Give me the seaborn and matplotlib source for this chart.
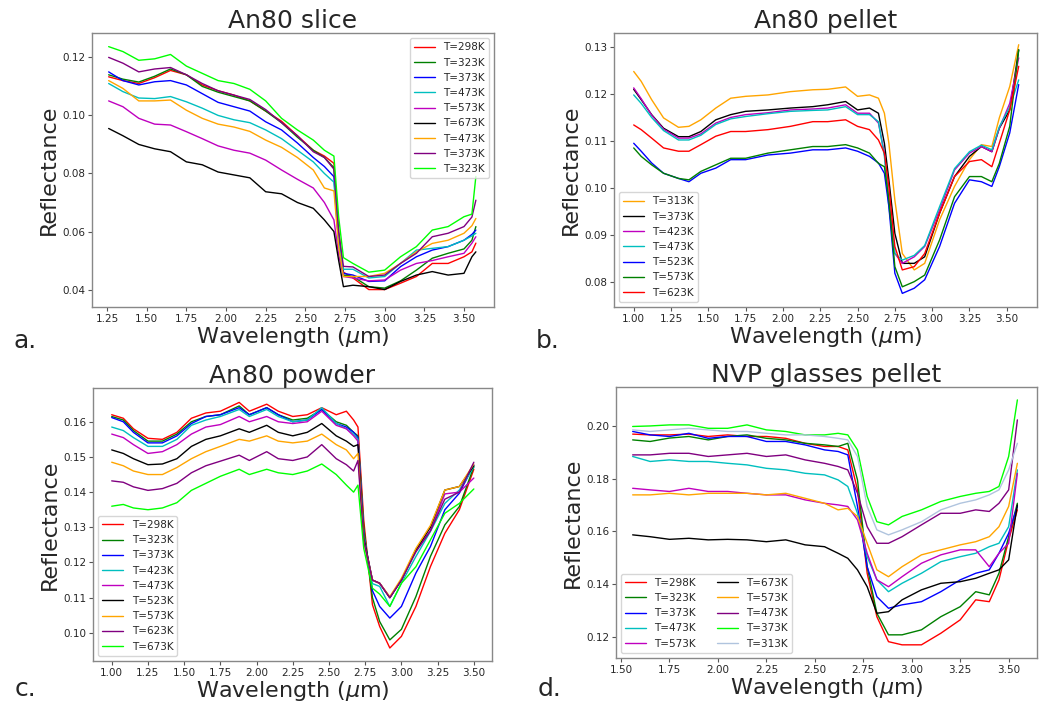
import numpy as np
import pandas as pd
import seaborn as sns
from matplotlib import pyplot as plt

# ---------------- data ----------------
# a. An80 slice
wl_a = [1.26, 1.35, 1.45, 1.55, 1.65, 1.75, 1.85, 1.95, 2.05, 2.15, 2.25, 2.35, 2.45, 2.55,
        2.62, 2.68, 2.71, 2.74, 2.80, 2.90, 3.00, 3.10, 3.20, 3.30, 3.40, 3.50, 3.55, 3.575]
labels_a = ["T=298K", "T=323K", "T=373K", "T=473K", "T=573K", "T=673K", "T=473K", "T=373K", "T=323K"]
colors_a = ["red", "green", "blue", "c", "m", "k", "orange", "purple", "lime"]
a_298 = [0.1133, 0.1120, 0.1110, 0.1130, 0.1155, 0.1140, 0.1105, 0.1085, 0.1070, 0.1050, 0.1015, 0.0980, 0.0930, 0.0880,
         0.0860, 0.0835, 0.0600, 0.0460, 0.0440, 0.0400, 0.0400, 0.0422, 0.0445, 0.0490, 0.0490, 0.0513, 0.0530, 0.0560]
a_323 = [0.1140, 0.1125, 0.1115, 0.1135, 0.1160, 0.1140, 0.1100, 0.1080, 0.1065, 0.1050, 0.1015, 0.0975, 0.0925, 0.0880,
         0.0855, 0.0820, 0.0580, 0.0450, 0.0445, 0.0410, 0.0405, 0.0430, 0.0467, 0.0508, 0.0525, 0.0540, 0.0570, 0.0617]
a_373 = [0.1150, 0.1120, 0.1105, 0.1116, 0.1120, 0.1105, 0.1075, 0.1045, 0.1030, 0.1015, 0.0978, 0.0950, 0.0905, 0.0855,
         0.0824, 0.0789, 0.0560, 0.0456, 0.0450, 0.0428, 0.0430, 0.0479, 0.0513, 0.0536, 0.0548, 0.0570, 0.0590, 0.0605]
a_473 = [0.1110, 0.1082, 0.1060, 0.1058, 0.1065, 0.1047, 0.1025, 0.1000, 0.0985, 0.0975, 0.0950, 0.0920, 0.0880, 0.0840,
         0.0800, 0.0770, 0.0560, 0.0470, 0.0470, 0.0440, 0.0445, 0.0490, 0.0536, 0.0542, 0.0548, 0.0570, 0.0585, 0.0594]
a_573 = [0.1050, 0.1030, 0.0990, 0.0970, 0.0967, 0.0944, 0.0920, 0.0895, 0.0880, 0.0870, 0.0846, 0.0812, 0.0780, 0.0750,
         0.0700, 0.0640, 0.0520, 0.0445, 0.0440, 0.0430, 0.0433, 0.0467, 0.0490, 0.0500, 0.0513, 0.0525, 0.0560, 0.0582]
a_673 = [0.0955, 0.0930, 0.0900, 0.0885, 0.0875, 0.0840, 0.0830, 0.0805, 0.0795, 0.0785, 0.0737, 0.0730, 0.0700, 0.0680,
         0.0640, 0.0600, 0.0500, 0.0410, 0.0415, 0.0410, 0.0400, 0.0428, 0.0450, 0.0462, 0.0450, 0.0456, 0.0513, 0.0530]
a_473b = [0.1120, 0.1093, 0.1050, 0.1050, 0.1053, 0.1018, 0.0990, 0.0970, 0.0960, 0.0945, 0.0915, 0.0890, 0.0855, 0.0812,
          0.0750, 0.0740, 0.0550, 0.0445, 0.0445, 0.0445, 0.0456, 0.0490, 0.0530, 0.0559, 0.0570, 0.0594, 0.0620, 0.0645]
a_373b = [0.1200, 0.1180, 0.1150, 0.1160, 0.1165, 0.1140, 0.1110, 0.1085, 0.1070, 0.1055, 0.1020, 0.0975, 0.0930, 0.0875,
          0.0855, 0.0815, 0.0600, 0.0480, 0.0478, 0.0445, 0.0450, 0.0490, 0.0525, 0.0582, 0.0594, 0.0617, 0.0650, 0.0708]
a_323b = [0.1237, 0.1220, 0.1190, 0.1195, 0.1210, 0.1170, 0.1145, 0.1120, 0.1110, 0.1090, 0.1050, 0.0990, 0.0950, 0.0915,
          0.0880, 0.0860, 0.0650, 0.0510, 0.0490, 0.0460, 0.0467, 0.0513, 0.0548, 0.0605, 0.0617, 0.0651, 0.0660, 0.0790]

# b. An80 pellet
wl_b = [1.00, 1.05, 1.12, 1.20, 1.30, 1.37, 1.45, 1.55, 1.65, 1.75, 1.90, 2.05, 2.20, 2.30, 2.42, 2.50,
        2.58, 2.64, 2.68, 2.71, 2.75, 2.80, 2.88, 2.95, 3.05, 3.15, 3.25, 3.33, 3.40, 3.45, 3.52, 3.58]
labels_b = ["T=313K", "T=373K", "T=423K", "T=473K", "T=523K", "T=573K", "T=623K"]
colors_b = ["orange", "k", "m", "c", "blue", "green", "red"]
b_313 = [0.1248, 0.1227, 0.1188, 0.1149, 0.1129, 0.1131, 0.1145, 0.1170, 0.1191, 0.1195, 0.1198, 0.1205, 0.1209, 0.1210, 0.1215, 0.1195,
         0.1198, 0.1191, 0.1159, 0.1095, 0.0974, 0.0860, 0.0825, 0.0839, 0.0932, 0.1003, 0.1060, 0.1092, 0.1088, 0.1149, 0.1216, 0.1305]
b_373 = [0.1210, 0.1188, 0.1156, 0.1127, 0.1109, 0.1109, 0.1120, 0.1145, 0.1156, 0.1163, 0.1166, 0.1170, 0.1173, 0.1177, 0.1184, 0.1166,
         0.1170, 0.1159, 0.1095, 0.1017, 0.0903, 0.0839, 0.0839, 0.0853, 0.0946, 0.1024, 0.1067, 0.1088, 0.1077, 0.1127, 0.1166, 0.1294]
b_423 = [0.1213, 0.1190, 0.1155, 0.1125, 0.1106, 0.1106, 0.1115, 0.1138, 0.1150, 0.1156, 0.1160, 0.1166, 0.1168, 0.1170, 0.1177, 0.1159,
         0.1159, 0.1138, 0.1074, 0.0974, 0.0860, 0.0839, 0.0853, 0.0875, 0.0953, 0.1038, 0.1074, 0.1088, 0.1077, 0.1127, 0.1180, 0.1277]
b_473 = [0.1198, 0.1180, 0.1150, 0.1122, 0.1102, 0.1102, 0.1112, 0.1135, 0.1147, 0.1152, 0.1158, 0.1163, 0.1165, 0.1166, 0.1173, 0.1156,
         0.1156, 0.1141, 0.1067, 0.0960, 0.0860, 0.0846, 0.0856, 0.0877, 0.0960, 0.1041, 0.1077, 0.1091, 0.1081, 0.1130, 0.1172, 0.1230]
b_523 = [0.1095, 0.1078, 0.1053, 0.1031, 0.1020, 0.1013, 0.1031, 0.1042, 0.1060, 0.1060, 0.1070, 0.1074, 0.1081, 0.1081, 0.1085, 0.1078,
         0.1067, 0.1053, 0.1031, 0.0960, 0.0818, 0.0775, 0.0786, 0.0804, 0.0875, 0.0967, 0.1017, 0.1013, 0.1003, 0.1045, 0.1117, 0.1220]
b_573 = [0.1085, 0.1067, 0.1049, 0.1031, 0.1020, 0.1017, 0.1035, 0.1049, 0.1063, 0.1063, 0.1074, 0.1081, 0.1088, 0.1088, 0.1092, 0.1085,
         0.1074, 0.1052, 0.1045, 0.0974, 0.0832, 0.0789, 0.0800, 0.0814, 0.0889, 0.0981, 0.1024, 0.1024, 0.1013, 0.1052, 0.1131, 0.1294]
b_623 = [0.1134, 0.1124, 0.1106, 0.1085, 0.1078, 0.1078, 0.1092, 0.1110, 0.1120, 0.1120, 0.1124, 0.1131, 0.1141, 0.1141, 0.1145, 0.1131,
         0.1124, 0.1102, 0.1074, 0.1003, 0.0875, 0.0825, 0.0832, 0.0860, 0.0946, 0.1024, 0.1056, 0.1060, 0.1045, 0.1095, 0.1166, 0.1259]

# c. An80 powder
wl_c = [1.00, 1.08, 1.15, 1.25, 1.35, 1.45, 1.55, 1.65, 1.75, 1.88, 1.95, 2.07, 2.15, 2.25, 2.35,
        2.45, 2.55, 2.62, 2.67, 2.70, 2.74, 2.80, 2.85, 2.92, 3.00, 3.10, 3.20, 3.30, 3.40, 3.50]
labels_c = ["T=298K", "T=323K", "T=373K", "T=423K", "T=473K", "T=523K", "T=573K", "T=623K", "T=673K"]
colors_c = ["red", "green", "blue", "c", "m", "k", "orange", "purple", "lime"]
c_298 = [0.1620, 0.1610, 0.1580, 0.1553, 0.1550, 0.1570, 0.1610, 0.1625, 0.1630, 0.1655, 0.1630, 0.1650, 0.1630, 0.1615, 0.1620,
         0.1640, 0.1620, 0.1630, 0.1605, 0.1585, 0.1320, 0.1080, 0.1018, 0.0957, 0.0990, 0.1075, 0.1188, 0.1283, 0.1350, 0.1465]
c_323 = [0.1615, 0.1605, 0.1575, 0.1545, 0.1545, 0.1565, 0.1600, 0.1615, 0.1620, 0.1645, 0.1620, 0.1640, 0.1620, 0.1605, 0.1610,
         0.1635, 0.1600, 0.1590, 0.1570, 0.1560, 0.1300, 0.1100, 0.1032, 0.0980, 0.1010, 0.1103, 0.1217, 0.1307, 0.1359, 0.1472]
c_373 = [0.1612, 0.1600, 0.1570, 0.1540, 0.1540, 0.1560, 0.1595, 0.1615, 0.1620, 0.1640, 0.1620, 0.1640, 0.1620, 0.1600, 0.1605,
         0.1635, 0.1595, 0.1585, 0.1570, 0.1555, 0.1280, 0.1120, 0.1075, 0.1042, 0.1075, 0.1170, 0.1245, 0.1350, 0.1397, 0.1477]
c_423 = [0.1585, 0.1575, 0.1555, 0.1530, 0.1530, 0.1550, 0.1590, 0.1605, 0.1615, 0.1635, 0.1615, 0.1635, 0.1615, 0.1600, 0.1605,
         0.1640, 0.1595, 0.1580, 0.1565, 0.1550, 0.1280, 0.1140, 0.1132, 0.1075, 0.1141, 0.1217, 0.1288, 0.1368, 0.1406, 0.1472]
c_473 = [0.1565, 0.1555, 0.1535, 0.1510, 0.1515, 0.1535, 0.1565, 0.1585, 0.1592, 0.1615, 0.1600, 0.1615, 0.1600, 0.1595, 0.1600,
         0.1630, 0.1590, 0.1580, 0.1560, 0.1545, 0.1270, 0.1150, 0.1141, 0.1100, 0.1150, 0.1236, 0.1290, 0.1395, 0.1400, 0.1440]
c_523 = [0.1520, 0.1510, 0.1495, 0.1478, 0.1480, 0.1495, 0.1530, 0.1550, 0.1560, 0.1580, 0.1570, 0.1590, 0.1570, 0.1560, 0.1570,
         0.1595, 0.1560, 0.1545, 0.1530, 0.1535, 0.1270, 0.1150, 0.1141, 0.1100, 0.1150, 0.1236, 0.1300, 0.1406, 0.1416, 0.1475]
c_573 = [0.1485, 0.1475, 0.1460, 0.1450, 0.1450, 0.1470, 0.1495, 0.1515, 0.1530, 0.1550, 0.1545, 0.1560, 0.1545, 0.1540, 0.1545,
         0.1565, 0.1535, 0.1520, 0.1495, 0.1510, 0.1260, 0.1150, 0.1141, 0.1103, 0.1155, 0.1240, 0.1305, 0.1406, 0.1416, 0.1480]
c_623 = [0.1432, 0.1428, 0.1415, 0.1405, 0.1410, 0.1425, 0.1455, 0.1475, 0.1488, 0.1505, 0.1490, 0.1515, 0.1495, 0.1490, 0.1500,
         0.1535, 0.1495, 0.1478, 0.1460, 0.1490, 0.1260, 0.1150, 0.1141, 0.1100, 0.1150, 0.1230, 0.1290, 0.1380, 0.1400, 0.1485]
c_673 = [0.1360, 0.1365, 0.1355, 0.1350, 0.1355, 0.1370, 0.1405, 0.1425, 0.1445, 0.1465, 0.1450, 0.1465, 0.1455, 0.1450, 0.1460,
         0.1480, 0.1450, 0.1420, 0.1400, 0.1420, 0.1240, 0.1127, 0.1110, 0.1075, 0.1141, 0.1188, 0.1264, 0.1340, 0.1368, 0.1409]

# d. NVP glasses pellet
wl_d = [1.56, 1.65, 1.75, 1.85, 1.95, 2.05, 2.15, 2.25, 2.35, 2.45, 2.55, 2.62, 2.67,
        2.72, 2.77, 2.82, 2.88, 2.95, 3.05, 3.15, 3.25, 3.33, 3.40, 3.45, 3.50, 3.545]
labels_d = ["T=298K", "T=323K", "T=373K", "T=473K", "T=573K", "T=673K", "T=573K", "T=473K", "T=373K", "T=313K"]
colors_d = ["red", "green", "blue", "c", "m", "k", "orange", "purple", "lime", "lightsteelblue"]
d_298 = [0.1970, 0.1967, 0.1967, 0.1970, 0.1961, 0.1967, 0.1961, 0.1961, 0.1954, 0.1935, 0.1923, 0.1923, 0.1910,
         0.1758, 0.1441, 0.1276, 0.1181, 0.1169, 0.1169, 0.1213, 0.1264, 0.1340, 0.1333, 0.1416, 0.1568, 0.1682]
d_323 = [0.1948, 0.1942, 0.1955, 0.1961, 0.1948, 0.1961, 0.1967, 0.1954, 0.1948, 0.1935, 0.1929, 0.1923, 0.1935,
         0.1796, 0.1466, 0.1289, 0.1207, 0.1207, 0.1226, 0.1276, 0.1314, 0.1371, 0.1359, 0.1441, 0.1580, 0.1707]
d_373 = [0.1980, 0.1967, 0.1961, 0.1973, 0.1954, 0.1961, 0.1961, 0.1942, 0.1942, 0.1929, 0.1910, 0.1904, 0.1891,
         0.1695, 0.1466, 0.1352, 0.1308, 0.1321, 0.1333, 0.1371, 0.1416, 0.1441, 0.1454, 0.1517, 0.1593, 0.1695]
d_473 = [0.1885, 0.1866, 0.1872, 0.1866, 0.1866, 0.1859, 0.1853, 0.1840, 0.1834, 0.1821, 0.1815, 0.1796, 0.1771,
         0.1669, 0.1504, 0.1416, 0.1371, 0.1403, 0.1441, 0.1485, 0.1504, 0.1517, 0.1542, 0.1555, 0.1618, 0.1834]
d_573 = [0.1764, 0.1758, 0.1752, 0.1764, 0.1752, 0.1752, 0.1745, 0.1739, 0.1739, 0.1720, 0.1707, 0.1701, 0.1695,
         0.1644, 0.1517, 0.1416, 0.1390, 0.1428, 0.1479, 0.1511, 0.1530, 0.1530, 0.1466, 0.1517, 0.1555, 0.1821]
d_673 = [0.1587, 0.1580, 0.1570, 0.1574, 0.1568, 0.1570, 0.1568, 0.1561, 0.1568, 0.1549, 0.1542, 0.1517, 0.1498,
         0.1454, 0.1390, 0.1289, 0.1295, 0.1340, 0.1378, 0.1403, 0.1409, 0.1422, 0.1441, 0.1454, 0.1492, 0.1701]
d_573b = [0.1739, 0.1739, 0.1745, 0.1739, 0.1745, 0.1745, 0.1745, 0.1739, 0.1745, 0.1726, 0.1707, 0.1682, 0.1688,
          0.1657, 0.1555, 0.1454, 0.1428, 0.1466, 0.1511, 0.1530, 0.1549, 0.1561, 0.1580, 0.1618, 0.1695, 0.1859]
d_473b = [0.1891, 0.1891, 0.1897, 0.1897, 0.1885, 0.1891, 0.1897, 0.1885, 0.1891, 0.1872, 0.1859, 0.1847, 0.1834,
          0.1745, 0.1618, 0.1555, 0.1555, 0.1580, 0.1625, 0.1669, 0.1669, 0.1682, 0.1676, 0.1707, 0.1758, 0.2024]
d_373b = [0.1999, 0.2001, 0.2005, 0.2005, 0.1992, 0.1992, 0.2005, 0.1986, 0.1980, 0.1967, 0.1967, 0.1973, 0.1967,
          0.1910, 0.1733, 0.1637, 0.1625, 0.1657, 0.1682, 0.1714, 0.1733, 0.1745, 0.1752, 0.1771, 0.1885, 0.2100]
d_313 = [0.1986, 0.1980, 0.1986, 0.1992, 0.1986, 0.1980, 0.1980, 0.1973, 0.1967, 0.1967, 0.1961, 0.1954, 0.1948,
         0.1885, 0.1695, 0.1606, 0.1587, 0.1606, 0.1637, 0.1682, 0.1707, 0.1720, 0.1739, 0.1758, 0.1834, 0.1935]

panels = [
    dict(title="An80 slice", tag="a.", tag_y=0.5047, wl=wl_a, labels=labels_a, colors=colors_a,
         series=[a_298, a_323, a_373, a_473, a_573, a_673, a_473b, a_373b, a_323b],
         rect=[0.0882, 0.5627, 0.3854, 0.3903], xlim=(1.155, 3.689), ylim=(0.0340, 0.1284),
         xticks=np.arange(1.25, 3.51, 0.25), yticks=[0.04, 0.06, 0.08, 0.10, 0.12],
         legend=dict(loc="upper right", ncol=1)),
    dict(title="An80 pellet", tag="b.", tag_y=0.5047, wl=wl_b, labels=labels_b, colors=colors_b,
         series=[b_313, b_373, b_423, b_473, b_523, b_573, b_623],
         rect=[0.5887, 0.5627, 0.4056, 0.3903], xlim=(0.868, 3.703), ylim=(0.0746, 0.1330),
         xticks=np.arange(1.0, 3.51, 0.25), yticks=[0.08, 0.09, 0.10, 0.11, 0.12, 0.13],
         legend=dict(loc="lower left", ncol=1)),
    dict(title="An80 powder", tag="c.", tag_y=0.009, wl=wl_c, labels=labels_c, colors=colors_c,
         series=[c_298, c_323, c_373, c_423, c_473, c_523, c_573, c_623, c_673],
         rect=[0.0892, 0.0584, 0.3826, 0.3889], xlim=(0.871, 3.626), ylim=(0.0920, 0.1696),
         xticks=np.arange(1.0, 3.51, 0.25), yticks=[0.10, 0.11, 0.12, 0.13, 0.14, 0.15, 0.16],
         legend=dict(loc="lower left", ncol=1)),
    dict(title="NVP glasses pellet", tag="d.", tag_y=0.009, wl=wl_d, labels=labels_d, colors=colors_d,
         series=[d_298, d_323, d_373, d_473, d_573, d_673, d_573b, d_473b, d_373b, d_313],
         rect=[0.5906, 0.0627, 0.4036, 0.3860], xlim=(1.474, 3.646), ylim=(0.1119, 0.2149),
         xticks=np.arange(1.5, 3.51, 0.25), yticks=[0.12, 0.14, 0.16, 0.18, 0.20],
         legend=dict(loc="lower left", ncol=2)),
]

sns.set_style("ticks")
plt.rcParams['font.family'] = ['DejaVu Sans']

fig = plt.figure(figsize=(10.43, 7.02), dpi=100)

for p in panels:
    ax = fig.add_axes(p["rect"])
    for vals, lab, col in zip(p["series"], p["labels"], p["colors"]):
        df = pd.DataFrame({"Wavelength": p["wl"], "Reflectance": vals})
        sns.lineplot(data=df, x="Wavelength", y="Reflectance", color=col, label=lab,
                     linewidth=1, ax=ax)
    ax.set_xlim(*p["xlim"])
    ax.set_ylim(*p["ylim"])
    ax.set_xticks(p["xticks"])
    ax.set_xticklabels(["%.2f" % t for t in p["xticks"]])
    ax.set_yticks(p["yticks"])
    ax.set_yticklabels(["%.2f" % t for t in p["yticks"]])
    ax.tick_params(labelsize=7.5, length=3, pad=2, color="#555555")
    for s in ax.spines.values():
        s.set_color("#888888")
        s.set_linewidth(1)
    ax.set_title(p["title"], fontsize=18, pad=3)
    ax.set_xlabel(r"Wavelength ($\mu$m)", fontsize=16, labelpad=1)
    ax.set_ylabel("Reflectance", fontsize=16, labelpad=2)
    ax.legend(loc=p["legend"]["loc"], ncol=p["legend"]["ncol"], fontsize=7.5)
    # panel letter in lower left corner of each block
    fig.text(p["rect"][0] - 0.075, p["tag_y"], p["tag"], fontsize=18, ha="left", va="baseline")

plt.savefig("out.png", dpi=100)
plt.close("all")
